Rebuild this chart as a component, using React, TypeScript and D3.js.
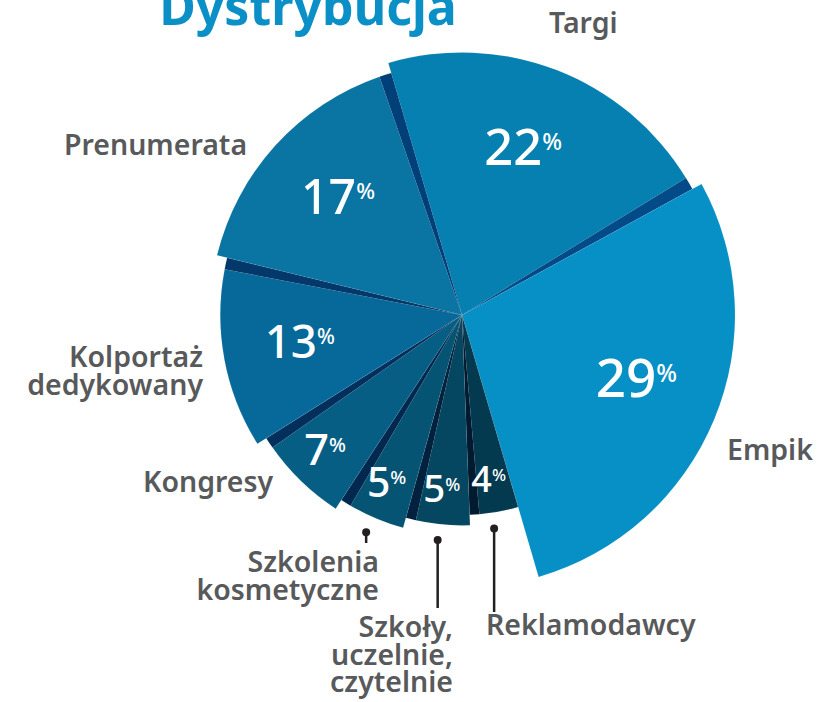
import React from "react";
import * as d3 from "d3";

const title = "Dystrybucja";
const categories = [
  "Targi",
  "Empik",
  "Reklamodawcy",
  "Szkoły, uczelnie, czytelnie",
  "Szkolenia kosmetyczne",
  "Kongresy",
  "Kolportaż dedykowany",
  "Prenumerata",
];
const shares = [22, 29, 4, 5, 5, 7, 13, 17];
const labelLines = [
  ["Targi"],
  ["Empik"],
  ["Reklamodawcy"],
  ["Szkoły,", "uczelnie,", "czytelnie"],
  ["Szkolenia", "kosmetyczne"],
  ["Kongresy"],
  ["Kolportaż", "dedykowany"],
  ["Prenumerata"],
];

// layout (not data)
const W = 832;
const H = 702;
const CX = 462;
const CY = 315;
const START_DEG = -16.3;
const BAND_DEG = 2.8;
const labelLayout: Record<string, { x: number; y: number; anchor: string; leaderEnd?: number; leaderDx?: number }> = {
  Targi: { x: 549, y: 33, anchor: "start" },
  Empik: { x: 727, y: 460, anchor: "start" },
  Prenumerata: { x: 64, y: 155, anchor: "start" },
  "Kolportaż dedykowany": { x: 203, y: 367, anchor: "end" },
  Kongresy: { x: 143, y: 492, anchor: "start" },
  "Szkolenia kosmetyczne": { x: 379, y: 572, anchor: "end", leaderEnd: 543, leaderDx: -5 },
  "Szkoły, uczelnie, czytelnie": { x: 453, y: 637, anchor: "end", leaderEnd: 608, leaderDx: 0 },
  Reklamodawcy: { x: 486, y: 635, anchor: "start", leaderEnd: 612, leaderDx: 0 },
};
const faceColors = ["#0790c5", "#0580b0", "#0a74a2", "#07699a", "#075e84", "#065474", "#054761", "#043a50"];
const bandColors = ["#034b88", "#034b88", "#013f79", "#02386a", "#022f5b", "#01294f", "#01213f", "#011a30"];

export default function App() {
  const n = shares.length;
  const topIdx = shares.indexOf(d3.max(shares) as number);
  const rank = shares.map((_, i) => (topIdx - i + n) % n);
  const rScale = d3.scaleLinear().domain([0, n - 1]).range([273, 200]);
  const fScale = d3.scaleLinear().domain([0, n - 1]).range([53, 36]);
  const toRad = (d: number) => (d * Math.PI) / 180;

  const pie = d3
    .pie<number>()
    .sort(null)
    .value((d) => d)
    .startAngle(toRad(START_DEG))
    .endAngle(toRad(START_DEG) + 2 * Math.PI);
  const arcsData = pie(shares);

  const arcGen = d3.arc<any>().innerRadius(0);

  return (
    <svg
      width={W}
      height={H}
      style={{ position: "absolute", left: 0, top: 0, background: "#fff" }}
    >
      <text
        x={308}
        y={25}
        textAnchor="middle"
        fontFamily="'Noto Sans', sans-serif"
        fontWeight={700}
        fontSize={50}
        fill="#0a8fc6"
      >
        {title}
      </text>
      <g transform={`translate(${CX},${CY})`}>
        {arcsData.map((a, i) => {
          const r = rScale(rank[i]);
          const next = (i + 1) % n;
          const hasBand = rScale(rank[next]) > r;
          const face = arcGen({
            startAngle: a.startAngle,
            endAngle: hasBand ? a.endAngle - toRad(BAND_DEG) : a.endAngle,
            outerRadius: r,
          }) as string;
          const band = hasBand
            ? (arcGen({
                startAngle: a.endAngle - toRad(BAND_DEG),
                endAngle: a.endAngle,
                outerRadius: r,
              }) as string)
            : null;
          return (
            <g key={categories[i]}>
              <path d={face} fill={faceColors[rank[i]]} stroke="rgba(255,255,255,0.12)" strokeWidth={0.6} />
              {band && <path d={band} fill={bandColors[rank[i]]} />}
            </g>
          );
        })}
        {arcsData.map((a, i) => {
          const r = rScale(rank[i]);
          const mid = (a.startAngle + a.endAngle) / 2 - toRad(shares[i] >= 20 ? 2.5 : 0);
          const lr = r * (shares[i] >= 10 ? 0.68 : 0.83);
          const fs = fScale(rank[i]);
          const x = lr * Math.sin(mid);
          const y = -lr * Math.cos(mid) + fs * 0.357;
          return (
            <text
              key={"p" + i}
              x={x}
              y={y}
              textAnchor="middle"
              fill="#fff"
              fontFamily="'Noto Sans', sans-serif"
              fontWeight={500}
            >
              <tspan fontSize={fs}>{shares[i]}</tspan>
              <tspan fontSize={fs * 0.46} dy={-fs * 0.3}>
                %
              </tspan>
            </text>
          );
        })}
      </g>
      {arcsData.map((a, i) => {
        const L = labelLayout[categories[i]];
        if (L.leaderEnd === undefined) return null;
        const r = rScale(rank[i]);
        const mid = (a.startAngle + a.endAngle) / 2;
        const x = CX + r * Math.sin(mid) + (L.leaderDx ?? 0);
        const y0 = CY - r * Math.cos(mid) + 16;
        return (
          <g key={"l" + i}>
            <line x1={x} x2={x} y1={y0} y2={L.leaderEnd} stroke="#231f20" strokeWidth={2.5} />
            <circle cx={x} cy={y0} r={4} fill="#231f20" />
          </g>
        );
      })}
      {categories.map((c, i) => {
        const L = labelLayout[c];
        return (
          <text
            key={"c" + i}
            x={L.x}
            y={L.y}
            textAnchor={L.anchor as any}
            fill="#58595b"
            fontFamily="'Noto Sans', sans-serif"
            fontWeight={600}
            fontSize={28.5}
          >
            {labelLines[i].map((t, j) => (
              <tspan key={j} x={L.x} dy={j === 0 ? 0 : 27.5}>
                {t}
              </tspan>
            ))}
          </text>
        );
      })}
    </svg>
  );
}
